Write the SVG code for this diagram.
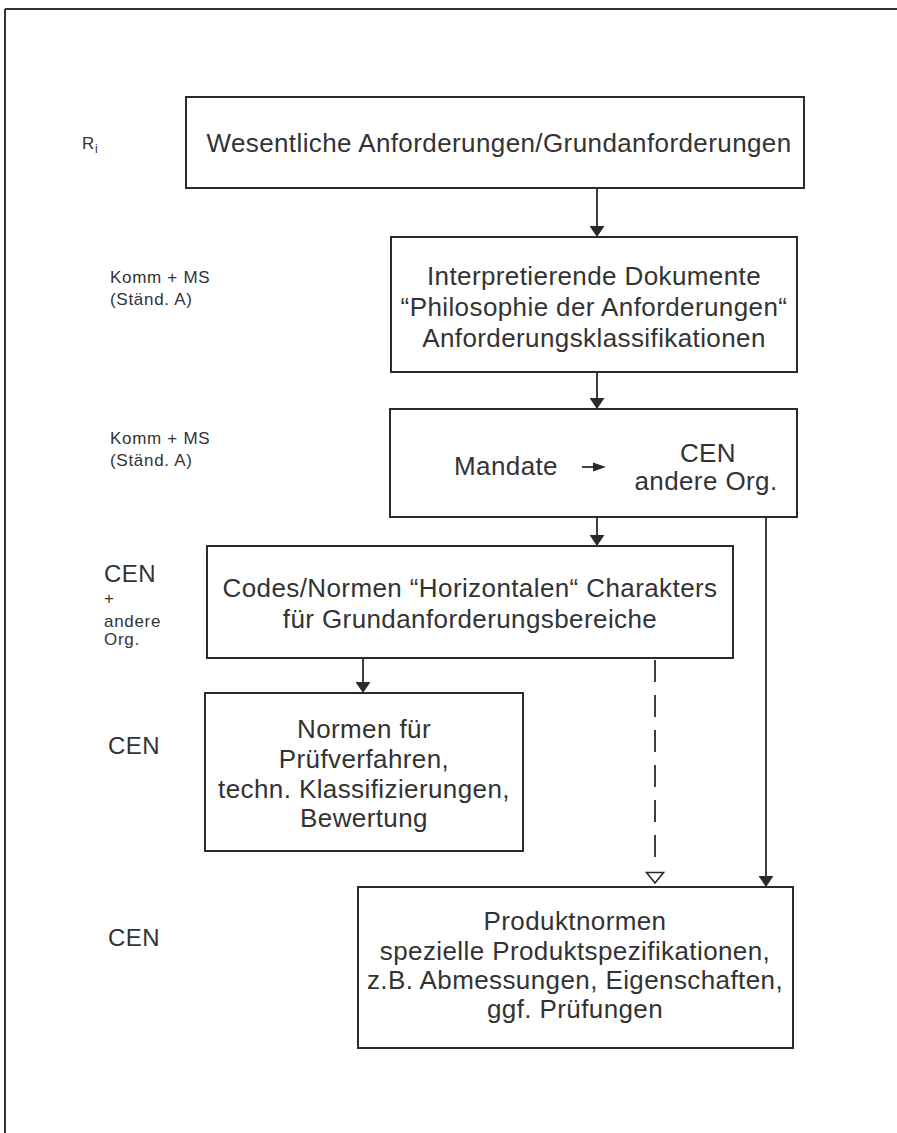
<svg xmlns="http://www.w3.org/2000/svg" width="897" height="1133" viewBox="0 0 897 1133">
<style>
.box{fill:#fff;stroke:#2a2a2a;stroke-width:2}
.t{font-family:"Liberation Sans",Arial,sans-serif;font-size:26px;fill:#333;letter-spacing:0.4px}
.c{text-anchor:middle}
.s{font-family:"Liberation Sans",Arial,sans-serif;font-size:17px;fill:#333;letter-spacing:0.7px}
.m{font-family:"Liberation Sans",Arial,sans-serif;font-size:24px;fill:#333;letter-spacing:0.5px}
.ln{stroke:#2a2a2a;stroke-width:1.8;fill:none}
</style>
<defs>
<marker id="ah" viewBox="0 0 10 10" refX="10" refY="5" markerUnits="userSpaceOnUse" markerWidth="11" markerHeight="15" orient="auto" preserveAspectRatio="none">
<path d="M0,0 L10,5 L0,10 z" fill="#2a2a2a"/>
</marker>
</defs>
<rect width="897" height="1133" fill="#fff"/>
<g id="frame">
<line x1="5" y1="9" x2="897" y2="9" stroke="#333" stroke-width="2"/>
<line x1="5" y1="9" x2="5" y2="1133" stroke="#333" stroke-width="2"/>
</g>
<g id="labels">
<text class="s" x="82" y="149">R<tspan font-size="12" dy="4">i</tspan></text>
<text class="s" x="110" y="283">Komm + MS</text>
<text class="s" x="110" y="305">(Ständ. A)</text>
<text class="s" x="110" y="444">Komm + MS</text>
<text class="s" x="110" y="466">(Ständ. A)</text>
<text class="m" x="104" y="582">CEN</text>
<text class="s" x="104" y="604" font-size="15">+</text>
<text class="s" x="104" y="627">andere</text>
<text class="s" x="104" y="645">Org.</text>
<text class="m" x="108" y="754">CEN</text>
<text class="m" x="108" y="946">CEN</text>
</g>
<g id="n1">
<rect class="box" x="186" y="97" width="618" height="91"/>
<text class="t c" x="499" y="152">Wesentliche Anforderungen/Grundanforderungen</text>
</g>
<g id="n2">
<rect class="box" x="391" y="237" width="406" height="135"/>
<text class="t c" x="594" y="285">Interpretierende Dokumente</text>
<text class="t c" x="594" y="316">“Philosophie der Anforderungen“</text>
<text class="t c" x="594" y="347">Anforderungsklassifikationen</text>
</g>
<g id="n3">
<rect class="box" x="390" y="409" width="407" height="108"/>
<text class="t" x="454" y="475">Mandate</text>
<line class="ln" x1="582" y1="467" x2="594" y2="467"/>
<path d="M593,462.5 L606,467 L593,471.5 z" fill="#2a2a2a"/>
<text class="t c" x="708" y="462">CEN</text>
<text class="t c" x="706" y="490">andere Org.</text>
</g>
<g id="n4">
<rect class="box" x="207" y="546" width="526" height="112"/>
<text class="t c" x="470" y="597">Codes/Normen “Horizontalen“ Charakters</text>
<text class="t c" x="470" y="628">für Grundanforderungsbereiche</text>
</g>
<g id="n5">
<rect class="box" x="205" y="693" width="318" height="158"/>
<text class="t c" x="364" y="738">Normen für</text>
<text class="t c" x="364" y="768">Prüfverfahren,</text>
<text class="t c" x="364" y="798">techn. Klassifizierungen,</text>
<text class="t c" x="364" y="827">Bewertung</text>
</g>
<g id="n6">
<rect class="box" x="358" y="887" width="435" height="161"/>
<text class="t c" x="575" y="930">Produktnormen</text>
<text class="t c" x="575" y="960">spezielle Produktspezifikationen,</text>
<text class="t c" x="575" y="989">z.B. Abmessungen, Eigenschaften,</text>
<text class="t c" x="575" y="1018">ggf. Prüfungen</text>
</g>
<g id="connectors">
<line class="ln" x1="597" y1="188" x2="597" y2="237" marker-end="url(#ah)"/>
<line class="ln" x1="597" y1="372" x2="597" y2="409" marker-end="url(#ah)"/>
<line class="ln" x1="597" y1="517" x2="597" y2="546" marker-end="url(#ah)"/>
<line class="ln" x1="766" y1="517" x2="766" y2="887" marker-end="url(#ah)"/>
<line class="ln" x1="363" y1="658" x2="363" y2="693" marker-end="url(#ah)"/>
<line class="ln" x1="655" y1="660" x2="655" y2="857" stroke-dasharray="22 13"/>
<path d="M646.5,872.5 L663.5,872.5 L655,883 z" fill="#fff" stroke="#2a2a2a" stroke-width="1.6"/>
</g>
</svg>
